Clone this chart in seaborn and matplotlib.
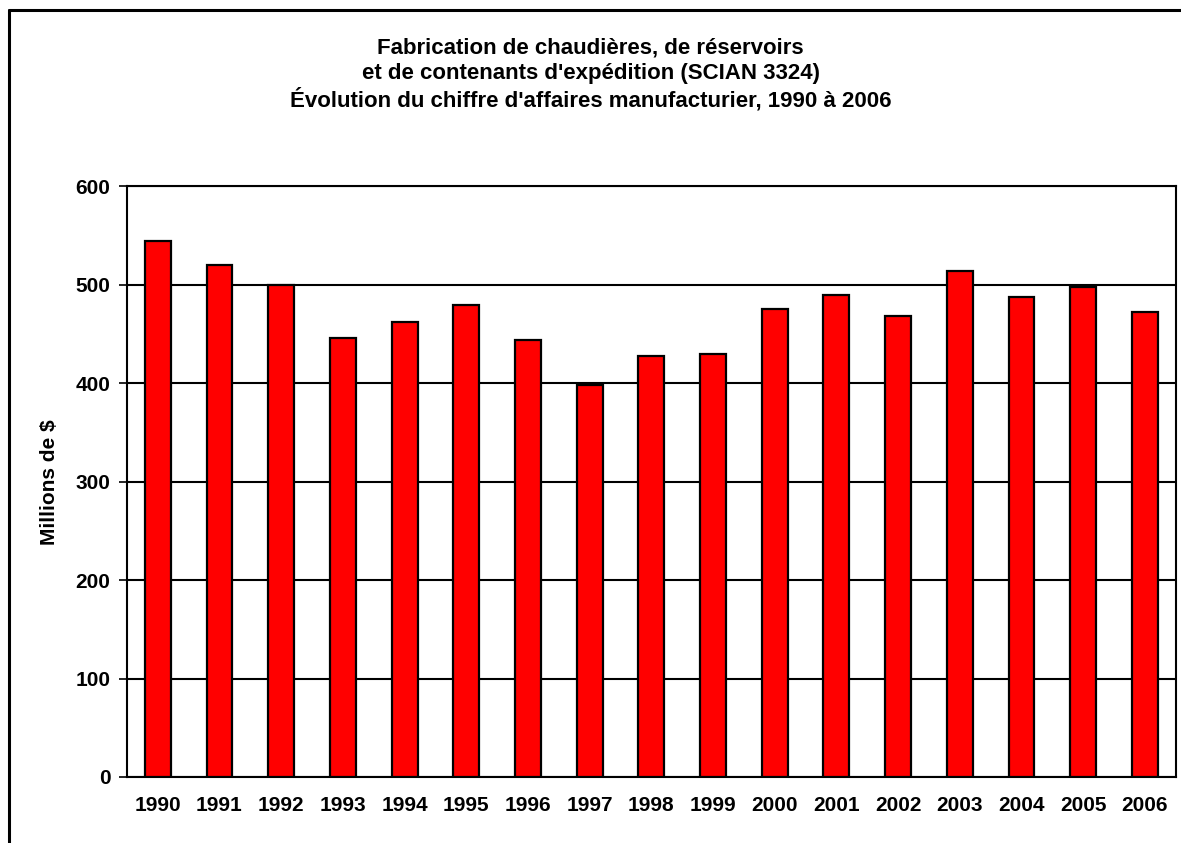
import matplotlib
matplotlib.use("Agg")
import matplotlib.pyplot as plt
from matplotlib.lines import Line2D
import pandas as pd
import seaborn as sns

# Données
annees = ["1990", "1991", "1992", "1993", "1994", "1995", "1996", "1997", "1998",
          "1999", "2000", "2001", "2002", "2003", "2004", "2005", "2006"]
chiffre_affaires = [545, 520, 500, 446, 462, 480, 444, 398, 428,
                    430, 476, 490, 468, 514, 488, 498, 472]
graduations_y = [0, 100, 200, 300, 400, 500, 600]

titre = ("Fabrication de chaudières, de réservoirs\n"
         "et de contenants d'expédition (SCIAN 3324)\n"
         "Évolution du chiffre d'affaires manufacturier, 1990 à 2006")

sns.set_style("white")
plt.rcParams['font.family'] = ['Liberation Sans', 'DejaVu Sans']
plt.rcParams['font.weight'] = 'bold'
plt.rcParams['text.color'] = 'black'
plt.rcParams['axes.labelcolor'] = 'black'
plt.rcParams['xtick.color'] = 'black'
plt.rcParams['ytick.color'] = 'black'

df = pd.DataFrame({'annee': annees, 'valeur': chiffre_affaires})

fig = plt.figure(figsize=(11.81, 8.43), dpi=100)
ax = fig.add_axes([0.1075, 0.0783, 0.888, 0.7005])

sns.barplot(data=df, x='annee', y='valeur', color='#ff0000', saturation=1,
            edgecolor='black', linewidth=1.6, width=0.42, ax=ax, zorder=3)

ax.set_ylim(0, 600)
ax.set_xlim(-0.5, len(annees) - 0.5)
ax.set_yticks(graduations_y)
ax.set_yticklabels([str(v) for v in graduations_y], fontsize=15, fontweight='bold')
ax.set_xticks(range(len(annees)))
ax.set_xticklabels(annees, fontsize=15, fontweight='bold')
ax.set_xticks([i - 0.5 for i in range(len(annees) + 1)], minor=True)
ax.tick_params(axis='x', which='major', length=0, pad=14)
ax.tick_params(axis='x', which='minor', length=5, width=1.2, color='black', direction='out')
ax.tick_params(axis='y', length=6, width=1.2, color='black', direction='out', pad=6, left=True)

ax.yaxis.grid(True, color='black', linewidth=1.5, zorder=0)
ax.set_axisbelow(True)
for s in ax.spines.values():
    s.set_visible(True)
    s.set_color('black')
    s.set_linewidth(1.5)

ax.set_xlabel('')
ax.set_ylabel('Millions de $', fontsize=15, fontweight='bold', labelpad=12)

fig.text(0.5, 0.955, titre, ha='center', va='top', fontsize=16,
         fontweight='bold', linespacing=1.23)

# Cadre extérieur du graphique
fig.add_artist(Line2D([0.0072, 0.0072], [-0.01, 0.988], color='black', linewidth=2.2))
fig.add_artist(Line2D([0.0072, 1.01], [0.988, 0.988], color='black', linewidth=2.2))

fig.savefig('out.png', dpi=100)
